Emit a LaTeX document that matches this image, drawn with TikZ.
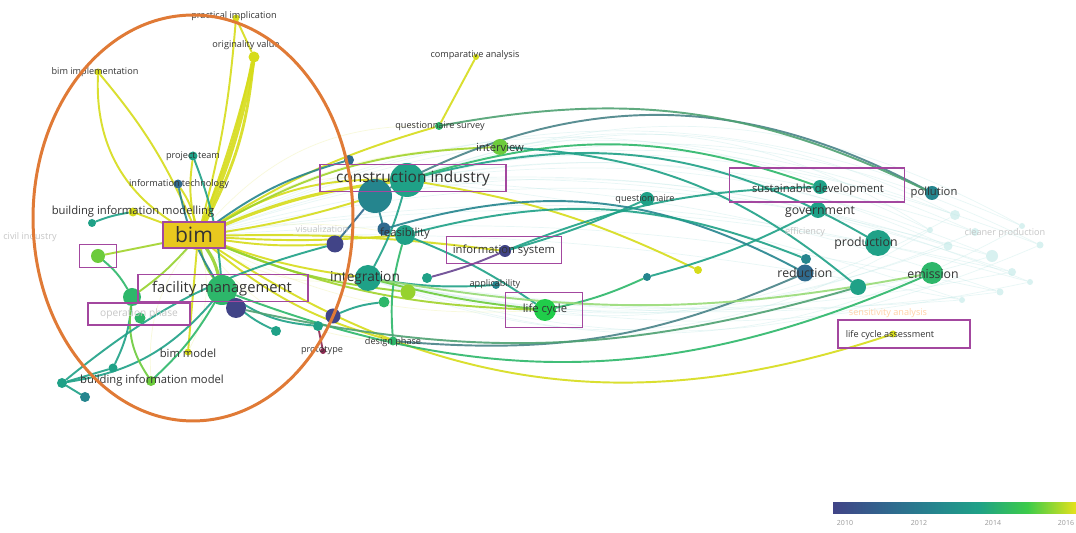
\documentclass[tikz,border=0pt]{standalone}
\usepackage{fontspec}
\setmainfont{Open Sans}
\usepackage{xcolor}
\usepackage{tikz}
\usetikzlibrary{shapes.geometric, arrows}

\definecolor{y10}{HTML}{414487}
\definecolor{y11}{HTML}{2F6A8E}
\definecolor{y12}{HTML}{25858E}
\definecolor{y13}{HTML}{1FA187}
\definecolor{y14}{HTML}{2DB76A}
\definecolor{y15}{HTML}{6CCB3C}
\definecolor{y16}{HTML}{D6DC1A}
\definecolor{barg}{HTML}{3CCB4A}
\definecolor{bary}{HTML}{E6E21C}
\definecolor{txt}{HTML}{333333}
\definecolor{hlbox}{HTML}{A3479F}
\definecolor{ring}{HTML}{E07A36}
\definecolor{ghost}{HTML}{BFE8E6}
\definecolor{bimfill}{HTML}{E8C81E}

\pgfdeclarehorizontalshading{yearbar}{100bp}{color(0bp)=(y10); color(25bp)=(y10); color(37bp)=(y11); color(46bp)=(y12); color(55bp)=(y13); color(65bp)=(barg); color(75bp)=(bary); color(100bp)=(bary)}

\pgfdeclarelayer{paper}
\pgfdeclarelayer{links}
\pgfsetlayers{paper,links,main}

\tikzstyle{kw} = [circle, inner sep=0pt, draw=none]
\tikzset{sz/.style={minimum size=#1*0.02cm}}
\tikzset{wh/.style 2 args={minimum width=#1*0.02cm, minimum height=#2*0.02cm}}
\tikzstyle{lblS} = [inner sep=0pt, text=txt, font=\fontsize{5.2}{6}\selectfont]
\tikzstyle{lblM} = [inner sep=0pt, text=txt, font=\fontsize{6.4}{7}\selectfont]
\tikzstyle{lblL} = [inner sep=0pt, text=txt, font=\fontsize{7}{8}\selectfont]
\tikzstyle{lblXL} = [inner sep=0pt, text=txt, font=\fontsize{8.8}{10}\selectfont]
\tikzstyle{lblG} = [inner sep=0pt, text=gray!45, font=\fontsize{5.2}{6}\selectfont]
\tikzstyle{hl} = [rectangle, draw=hlbox, line width=1.1pt, inner sep=0pt]
\tikzstyle{link} = [line width=1.1pt, line cap=round, opacity=0.9]
\tikzstyle{ghostlink} = [line width=0.4pt, ghost, opacity=0.35]

\begin{document}
\begin{tikzpicture}[x=0.02cm, y=-0.02cm]

        \begin{pgfonlayer}{paper}
        \fill[white] (0,0) rectangle (1076,533);
        \end{pgfonlayer}
        \useasboundingbox (0,0) rectangle (1076,533);

        % Nodes
        \node[kw, sz=28, fill=y16] (bim) at (198,236) {};
        \node[kw, sz=7, fill=y16] (pracImpl) at (236,18) {};
        \node[kw, sz=11, fill=y16] (origValue) at (254,57) {};
        \node[kw, sz=7, fill=y16] (bimImpl) at (98,72) {};
        \node[kw, sz=6, fill=y16] (compAnalysis) at (476,57) {};
        \node[kw, sz=9, fill=y13] (projTeam) at (193,156) {};
        \node[kw, sz=9, fill=y11] (infoTech) at (178,184) {};
        \node[kw, sz=9, fill=y16] (bimModelling) at (133,212) {};
        \node[kw, sz=8, fill=y13] (bmTeal) at (92,223) {};
        \node[kw, sz=14, fill=y15] (civilInd) at (98,256) {};
        \node[kw, sz=30, fill=y14] (facMan) at (222,290) {};
        \node[kw, sz=20, fill=y10] (fmBlue) at (236,308) {};
        \node[kw, sz=18, fill=y14] (fmGreen) at (132,297) {};
        \node[kw, sz=11, fill=y14] (opPhase) at (140,318) {};
        \node[kw, sz=7, fill=y16] (bimModel) at (188,352) {};
        \node[kw, sz=10, fill=y15] (bimInfModel) at (151,381) {};
        \node[kw, sz=10, fill=y13] (bimTealA) at (62,383) {};
        \node[kw, sz=10, fill=y12] (bimTealB) at (85,397) {};
        \node[kw, sz=9, fill=y13] (bimTealC) at (113,368) {};
        \node[kw, sz=10, fill=y13] (fmTealA) at (276,331) {};
        \node[kw, sz=10, fill=y13] (fmTealB) at (318,326) {};
        \node[kw, sz=6, fill=y10!60!red] (prototype) at (323,351) {};
        \node[kw, sz=15, fill=y10] (protoBlue) at (333,316) {};
        \node[kw, sz=34, fill=y12] (conIndBlue) at (375,196) {};
        \node[kw, sz=34, fill=y13] (conInd) at (407,180) {};
        \node[kw, sz=10, fill=y11] (conIndSmall) at (349,160) {};
        \node[kw, sz=17, fill=y10] (visual) at (335,244) {};
        \node[kw, sz=13, fill=y11] (feasBlue) at (384,229) {};
        \node[kw, sz=20, fill=y13] (feasibility) at (405,235) {};
        \node[kw, sz=8, fill=y14] (questSurvey) at (439,126) {};
        \node[kw, sz=16, fill=y15] (interview) at (500,147) {};
        \node[kw, sz=26, fill=y13] (integration) at (368,278) {};
        \node[kw, sz=10, fill=y13] (intTeal) at (427,278) {};
        \node[kw, sz=15, fill=y15!60!y16] (intLime) at (408,292) {};
        \node[kw, sz=11, fill=y14] (intGreen) at (384,302) {};
        \node[kw, sz=12, fill=y10] (infoSystem) at (505,251) {};
        \node[kw, sz=8, fill=y12] (applic) at (496,285) {};
        \node[kw, sz=22, fill=y14!70!green] (lifeCycle) at (545,310) {};
        \node[kw, sz=9, fill=y14] (designPhase) at (393,341) {};
        \node[kw, sz=14, fill=y13] (questionnaire) at (647,199) {};
        \node[kw, sz=8, fill=y16] (lateDot) at (698,270) {};
        \node[kw, sz=8, fill=y12] (midDot) at (647,277) {};
        \node[kw, sz=14, fill=y13] (sustDev) at (820,187) {};
        \node[kw, sz=16, fill=y13] (government) at (818,210) {};
        \node[kw, sz=14, fill=y12] (pollution) at (932,193) {};
        \node[kw, sz=26, fill=y13] (production) at (878,243) {};
        \node[kw, sz=10, fill=y12] (redTop) at (806,259) {};
        \node[kw, sz=17, fill=y11] (reduction) at (805,273) {};
        \node[kw, sz=16, fill=y13] (redGreen) at (858,287) {};
        \node[kw, sz=22, fill=y14] (emission) at (932,273) {};
        \node[kw, sz=7, fill=y16] (lca) at (893,334) {};
        \foreach \n/\x/\y/\s in {g1/955/215/10, g2/975/232/8, g3/992/256/12, g4/1022/226/6,
                g5/1012/272/8, g6/1040/245/7, g7/948/246/9, g8/1000/292/7, g9/962/300/6,
                g10/1030/282/6, g11/930/230/6}
            \node[kw, sz=\s, fill=ghost, opacity=0.6] (\n) at (\x,\y) {};

        % Links
        \begin{pgfonlayer}{links}
        \foreach \t/\b in {g1/22, g2/18, g3/14, g4/24, g5/10, g6/20, g7/16, g8/8, g9/6, g10/12, g11/26} {
            \draw[ghostlink] (conInd) to[bend left=\b] (\t);
            \draw[ghostlink] (bim) to[bend left=\b] (\t);
            \draw[ghostlink] (integration) to[bend right=\b] (\t);
        }
        \foreach \t/\b in {conInd/20, interview/15, questSurvey/25, integration/-20, lifeCycle/-15,
                designPhase/-25, feasibility/10, infoSystem/5, bimModel/20, bimInfModel/-20}
            \draw[ghostlink, y16!45!white] (bim) to[bend left=\b] (\t);

        \draw[link, y16, line width=2.6pt] (bim) to[bend right=6] (origValue);
        \draw[link, y16, line width=1.6pt] (bim) to[bend right=11] (origValue);
        \draw[link, y16] (bim) to[bend right=3] (origValue);
        \draw[link, y16] (bim) to[bend right=5] (pracImpl);
        \draw[link, y16] (origValue) -- (pracImpl);
        \draw[link, y16] (bim) to[bend left=32] (bimImpl);
        \draw[link, y16] (bim) to[bend right=8] (bimImpl);
        \draw[link, y16] (compAnalysis) -- (questSurvey);
        \draw[link, y16] (questSurvey) to[bend right=8] (bim);
        \draw[link, y16, line width=1.8pt] (bim) to[bend left=8] (conInd);
        \draw[link, y16] (bim) to[bend left=16] (conInd);
        \draw[link, y16] (bim) to[bend right=4] (conIndBlue);
        \draw[link, y15!50!y16] (bim) to[bend left=14] (interview);
        \draw[link, y16] (bim) to[bend left=4] (infoSystem);
        \draw[link, y16] (bim) to[bend right=6] (integration);
        \draw[link, y15!50!y16] (bim) to[bend right=10] (lifeCycle);
        \draw[link, y16] (bim) to[bend right=12] (designPhase);
        \draw[link, y16] (bim) to[bend right=26] (lca);
        \draw[link, y16] (conInd) to[bend left=8] (lateDot);
        \draw[link, y16] (bim) -- (bimModel);
        \draw[link, y15!50!y16] (bim) -- (civilInd);
        \draw[link, y16] (bim) -- (bimModelling);
        \draw[link, y16] (bim) to[bend left=10] (projTeam);
        \draw[link, y16] (bim) to[bend right=10] (infoTech);
        \draw[link, y15!60!y16, line width=1.8pt] (bim) to[bend left=10] (facMan);
        \draw[link, y15!60!y16] (bim) to[bend right=12] (facMan);
        \draw[link, y15!60!y16] (bim) to[bend right=8] (intLime);
        \draw[link, y15!60!y16] (bim) to[bend left=6] (fmGreen);
        \draw[link, y16] (bim) to[bend right=6] (visual);
        \draw[link, y16] (bim) to[bend right=4] (feasibility);

        \draw[link, y13] (projTeam) to[bend left=8] (facMan);
        \draw[link, y12] (infoTech) to[bend right=10] (facMan);
        \draw[link, y13] (bmTeal) to[bend left=6] (bimModelling);
        \draw[link, y14] (facMan) to[bend left=8] (bimInfModel);
        \draw[link, y13] (facMan) to[bend left=20] (bimTealA);
        \draw[link, y13] (bimTealB) -- (bimTealA);
        \draw[link, y13] (bimTealC) -- (bimTealA);
        \draw[link, y13] (fmGreen) to[bend left=10] (bimTealC);
        \draw[link, y13] (facMan) to[bend right=10] (fmTealA);
        \draw[link, y13] (facMan) to[bend right=14] (fmTealB);
        \draw[link, y10!60!red] (fmTealB) -- (prototype);
        \draw[link, y14] (civilInd) to[bend left=10] (fmGreen);
        \draw[link, y15] (fmGreen) to[bend right=20] (bimInfModel);
        \draw[link, y13] (bimTealA) to[bend left=12] (visual);
        \draw[link, y12] (conIndSmall) to[bend right=10] (bim);

        \draw[link, y12] (conIndBlue) -- (feasBlue);
        \draw[link, y11] (conIndBlue) -- (visual);
        \draw[link, y13] (conInd) to[bend left=6] (integration);
        \draw[link, y13] (feasibility) to[bend left=6] (lifeCycle);
        \draw[link, y13] (integration) to[bend right=6] (applic);
        \draw[link, y10!60!hlbox] (intTeal) to[bend right=4] (infoSystem);
        \draw[link, y14] (lifeCycle) to[bend right=6] (midDot);
        \draw[link, y13] (midDot) to[bend right=6] (government);
        \draw[link, y13] (questionnaire) to[bend left=4] (infoSystem);
        \draw[link, y14] (feasibility) to[bend right=10] (designPhase);
        \draw[link, y13] (protoBlue) to[bend left=8] (intGreen);
        \draw[link, y15] (integration) to[bend right=4] (lifeCycle);

        \draw[link, y12!60!gray] (conIndBlue) to[bend left=28] (pollution);
        \draw[link, y14!60!gray] (questSurvey) to[bend left=18] (pollution);
        \draw[link, y13] (conInd) to[bend left=22] (production);
        \draw[link, y14] (conInd) to[bend left=18] (sustDev);
        \draw[link, y13] (interview) to[bend left=18] (redGreen);
        \draw[link, y12] (feasBlue) to[bend left=22] (reduction);
        \draw[link, y13] (feasibility) to[bend left=18] (redTop);
        \draw[link, y12!60!gray] (designPhase) to[bend right=14] (reduction);
        \draw[link, y14] (facMan) to[bend right=22] (emission);
        \draw[link, y15!70!white] (integration) to[bend right=10] (emission);
        \draw[link, y13] (infoSystem) to[bend left=10] (sustDev);
        \draw[link, y14!60!gray] (fmBlue) to[bend right=14] (redGreen);
        \end{pgfonlayer}

        % Highlight boxes
        \node[hl, wh={62}{26}, fill=bimfill] (bimBox) at (194,235) {};
        \node[hl, wh={37}{23}] (civilBox) at (98,256) {};
        \node[hl, wh={170}{27}] (facManBox) at (223,288) {};
        \node[hl, wh={102}{22}] (opPhaseBox) at (139,314) {};
        \node[hl, wh={186}{27}] (conIndBox) at (413,178) {};
        \node[hl, wh={115}{27}] (infoSystemBox) at (504,250) {};
        \node[hl, wh={77}{35}] (lifeCycleBox) at (544,310) {};
        \node[hl, wh={175}{34}] (sustDevBox) at (817,185) {};
        \node[hl, wh={132}{28}] (lcaBox) at (904,334) {};

        % Labels
        \node[lblS] (pracImplT) at (234,16) {practical implication};
        \node[lblS] (origValueT) at (246,45) {originality value};
        \node[lblS] (bimImplT) at (95,72) {bim implementation};
        \node[lblS] (compAnalysisT) at (475,55) {comparative analysis};
        \node[lblS] (projTeamT) at (193,156) {project team};
        \node[lblS] (infoTechT) at (179,184) {information technology};
        \node[lblM] (bimModellingT) at (133,212) {building information modelling};
        \node[lblG] (civilIndT) at (30,237) {civil industry};
        \node[inner sep=0pt, text=txt, font=\fontsize{12}{14}\selectfont] (bimT) at (194,235) {bim};
        \node[lblXL, font=\fontsize{8.4}{10}\selectfont] (facManT) at (222,289) {facility management};
        \node[lblG, font=\fontsize{5.8}{7}\selectfont] (opPhaseT) at (139,314) {operation phase};
        \node[lblM] (bimModelT) at (188,353) {bim model};
        \node[lblM] (bimInfModelT) at (152,381) {building information model};
        \node[lblS] (prototypeT) at (322,351) {prototype};
        \node[lblXL] (conIndT) at (413,178) {construction industry};
        \node[lblG] (visualT) at (322,229) {visualization};
        \node[lblM] (feasibilityT) at (405,234) {feasibility};
        \node[lblS] (questSurveyT) at (440,126) {questionnaire survey};
        \node[lblM] (interviewT) at (500,147) {interview};
        \node[lblL, font=\fontsize{7.8}{9}\selectfont] (integrationT) at (365,278) {integration};
        \node[lblM] (infoSystemT) at (504,251) {information system};
        \node[lblS] (applicT) at (495,284) {applicability};
        \node[lblM] (lifeCycleT) at (545,310) {life cycle};
        \node[lblS] (designPhaseT) at (393,342) {design phase};
        \node[lblS] (questionnaireT) at (645,199) {questionnaire};
        \node[lblM] (sustDevT) at (818,190) {sustainable development};
        \node[lblL] (governmentT) at (820,212) {government};
        \node[lblM] (pollutionT) at (934,193) {pollution};
        \node[lblL] (productionT) at (866,243) {production};
        \node[lblL] (reductionT) at (805,273) {reduction};
        \node[lblL] (emissionT) at (933,274) {emission};
        \node[lblS] (lcaT) at (890,335) {life cycle assessment};
        \node[lblG] (efficiencyT) at (805,232) {efficiency};
        \node[lblG, text=orange!35] (sensT) at (888,313) {sensitivity analysis};
        \node[lblG] (cleanerT) at (1005,233) {cleaner production};

        % Cluster ring
        \draw[ring, line width=1.7pt] (193,218) ellipse [x radius=3.2cm, y radius=4.06cm];

        % Year scale
        \shade[shading=yearbar] (833,503) rectangle (1076,514);
        \foreach \yr/\x in {2010/845, 2012/919, 2014/993, 2016/1066}
            \node[lblG, text=gray!80, font=\fontsize{4}{5}\selectfont] (year\yr) at (\x,523) {\yr};

\end{tikzpicture}
\end{document}
